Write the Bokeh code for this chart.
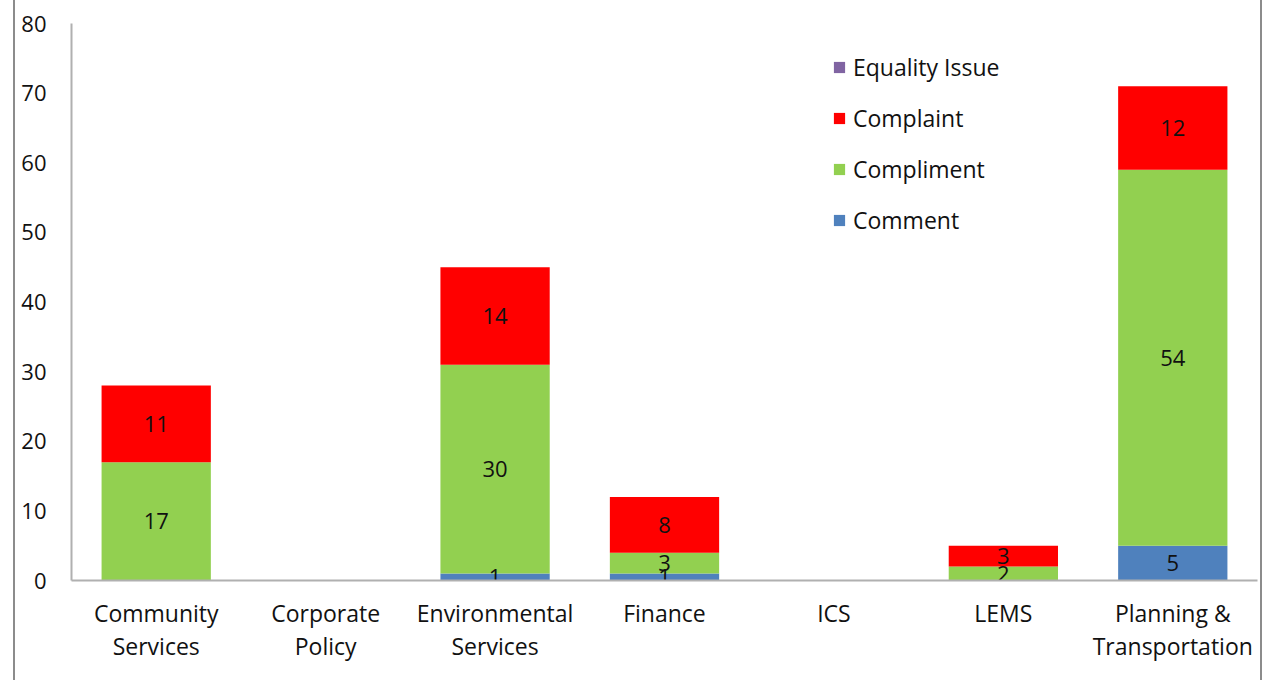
from bokeh.plotting import figure
from bokeh.models import (FactorRange, FixedTicker, Legend, LegendItem, ColumnDataSource,
                          CategoricalAxis, CustomJSTickFormatter)
from bokeh.core.properties import value
from bokeh.embed import file_html
from bokeh.resources import INLINE

categories = ["Community Services", "Corporate Policy", "Environmental Services",
              "Finance", "ICS", "LEMS", "Planning & Transportation"]
label_line1 = ["Community", "Corporate", "Environmental", "Finance", "ICS", "LEMS",
               "Planning &"]
label_line2 = ["Services", "Policy", "Services", "", "", "", "Transportation"]
comment = [0, 0, 1, 1, 0, 0, 5]
compliment = [17, 0, 30, 3, 0, 2, 54]
complaint = [11, 0, 14, 8, 0, 3, 12]
equality = [0, 0, 0, 0, 0, 0, 0]
series_names = ["Comment", "Compliment", "Complaint", "Equality Issue"]
colors = ["#4F81BD", "#92D050", "#FF0000", "#8064A2"]
y_ticks = [0, 10, 20, 30, 40, 50, 60, 70, 80]

FONT = "Open Sans"
FS = "22px"
FSX = "23px"

p = figure(x_range=FactorRange(*categories), y_range=(0, 80),
           width=1249, height=680, output_backend="svg", toolbar_location=None,
           min_border_left=56, min_border_right=7, min_border_top=23, min_border_bottom=100)
p.styles = {"border-left": "2px solid #8c8c8c", "border-right": "2px solid #8c8c8c",
            "margin-left": "13px"}

src = ColumnDataSource(dict(cat=categories, Comment=comment, Compliment=compliment,
                            Complaint=complaint, **{"Equality Issue": equality}))
rs = p.vbar_stack(series_names, x="cat", width=0.645, color=colors, source=src,
                  line_color=None)

# value labels at segment middles
lx, ly, lt = [], [], []
for i, c in enumerate(categories):
    base = 0
    for vals in (comment, compliment, complaint, equality):
        v = vals[i]
        if v > 0:
            lx.append(c)
            ly.append(base + v / 2)
            lt.append(str(v))
        base += v
p.text(x=lx, y=ly, text=lt, text_align="center", text_baseline="middle",
       text_font=value(FONT), text_font_size=FS, text_color="#111111")

p.xgrid.visible = False
p.ygrid.visible = False
p.outline_line_color = None

p.yaxis.ticker = FixedTicker(ticks=y_ticks)
p.yaxis.major_tick_line_color = None
p.yaxis.minor_tick_line_color = None
p.yaxis.axis_line_color = "#b0b0b0"
p.yaxis.axis_line_width = 2
p.yaxis.major_label_text_font = FONT
p.yaxis.major_label_text_font_size = FS
p.yaxis.major_label_text_color = "#111111"
p.yaxis.major_label_standoff = 19

FMT_CODE = "const i = cats.indexOf(tick); return i >= 0 ? lines[i] : tick;"

xa = p.xaxis[0]
xa.major_tick_line_color = None
xa.minor_tick_line_color = None
xa.axis_line_color = "#b0b0b0"
xa.axis_line_width = 2
xa.major_label_text_font = FONT
xa.major_label_text_font_size = FSX
xa.major_label_text_color = "#111111"
xa.major_label_standoff = 10
xa.formatter = CustomJSTickFormatter(args=dict(cats=categories, lines=label_line1),
                                     code=FMT_CODE)

xa2 = CategoricalAxis(major_tick_line_color=None, minor_tick_line_color=None,
                      axis_line_color=None, major_label_text_font=FONT,
                      major_label_text_font_size=FSX, major_label_text_color="#111111",
                      major_label_standoff=-8,
                      formatter=CustomJSTickFormatter(args=dict(cats=categories,
                                                                lines=label_line2),
                                                      code=FMT_CODE))
p.add_layout(xa2, "below")

items = [LegendItem(label=series_names[i], renderers=[rs[i]]) for i in (3, 2, 1, 0)]
legend = Legend(items=items, location=(761, 344), orientation="vertical",
                glyph_width=14, glyph_height=14, label_standoff=7, spacing=19,
                padding=0, margin=0, border_line_color=None, background_fill_alpha=0,
                label_text_font=FONT, label_text_font_size="23px",
                label_text_color="#111111", label_height=25)
p.add_layout(legend, "center")

open("out.html", "w").write(file_html(p, INLINE))
